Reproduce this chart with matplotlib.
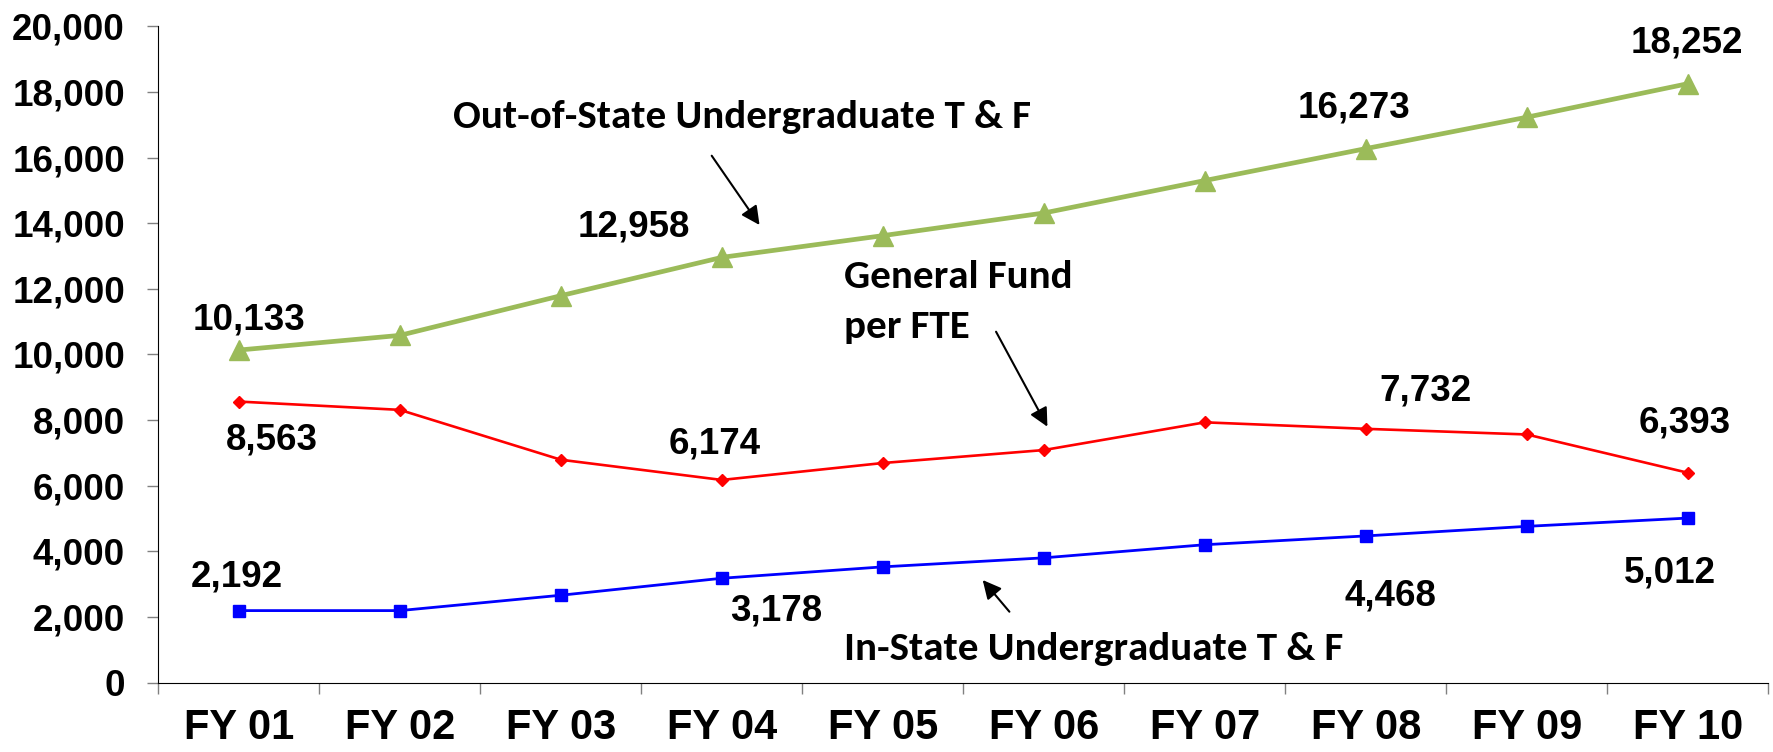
import numpy as np
import matplotlib
matplotlib.use("Agg")
import matplotlib.pyplot as plt
from matplotlib.ticker import FuncFormatter, FixedLocator

years = ["FY 01", "FY 02", "FY 03", "FY 04", "FY 05", "FY 06", "FY 07", "FY 08", "FY 09", "FY 10"]
out_state = [10133, 10580, 11790, 12958, 13620, 14310, 15300, 16273, 17230, 18252]
general_fund = [8563, 8310, 6790, 6174, 6690, 7085, 7930, 7732, 7560, 6393]
in_state = [2192, 2192, 2660, 3178, 3525, 3800, 4200, 4468, 4760, 5012]

# data label positions (x index, baseline y value) and text
out_labels = [(0.063, 10774, "10,133"), (2.452, 13609, "12,958"), (6.927, 17227, "16,273"), (8.995, 19208, "18,252")]
gf_labels = [(0.203, 7102, "8,563"), (2.953, 6986, "6,174"), (7.371, 8610, "7,732"), (8.981, 7605, "6,393")]
in_labels = [(-0.013, 2926, "2,192"), (3.337, 1905, "3,178"), (7.155, 2362, "4,468"), (8.889, 3042, "5,012")]

arial = ["Liberation Sans", "DejaVu Sans"]
calibri = ["Carlito", "DejaVu Sans"]

fig = plt.figure(figsize=(17.73, 7.52), dpi=100)
ax = fig.add_axes([0.0893, 0.0924, 0.9081, 0.8726])

x = np.arange(len(years))
ax.plot(x, out_state, color="#9BBB59", lw=3.4, marker="^", ms=15, zorder=3)
ax.plot(x, general_fund, color="#FF0000", lw=1.9, marker="D", ms=6.5, zorder=3)
ax.plot(x, in_state, color="#0000FF", lw=2.0, marker="s", ms=9, zorder=3)

for xs, ys, t in out_labels + gf_labels + in_labels:
    ax.text(xs, ys, t, ha="center", va="baseline", fontsize=26.5, fontweight="bold", family=arial)

ax.text(3.125, 16892, "Out-of-State Undergraduate T & F", ha="center", va="baseline",
        fontsize=29.5, fontweight="bold", family=calibri)
ax.text(3.759, 12015, "General Fund", ha="left", va="baseline",
        fontsize=29.5, fontweight="bold", family=calibri)
ax.text(3.759, 10491, "per FTE", ha="left", va="baseline",
        fontsize=29.5, fontweight="bold", family=calibri)
ax.text(3.760, 686, "In-State Undergraduate T & F", ha="left", va="baseline",
        fontsize=29.5, fontweight="bold", family=calibri)

arrow = dict(arrowstyle="-|>", color="black", lw=1.5, mutation_scale=28, shrinkA=0, shrinkB=0)
ax.annotate("", xy=(3.234, 13944), xytext=(2.937, 16056), arrowprops=arrow)
ax.annotate("", xy=(5.022, 7797), xytext=(4.703, 10692), arrowprops=arrow)
ax.annotate("", xy=(4.620, 3124), xytext=(4.786, 2158), arrowprops=arrow)

ax.set_xlim(-0.5, len(years) - 0.5)
ax.set_ylim(0, 20000)
ax.set_yticks(np.arange(0, 20001, 2000))
ax.yaxis.set_major_formatter(FuncFormatter(lambda v, p: f"{int(v):,}"))
ax.set_xticks(x)
ax.set_xticklabels(years)
ax.xaxis.set_minor_locator(FixedLocator(np.arange(-0.5, len(years), 1.0)))
ax.tick_params(axis="x", which="major", length=0, pad=18)
ax.tick_params(axis="x", which="minor", length=8, width=1, color="gray", direction="out")
ax.tick_params(axis="y", length=8, width=1, color="gray", direction="out", pad=16)

for lab in ax.get_yticklabels():
    lab.set_fontsize(26.5)
    lab.set_fontweight("bold")
    lab.set_family(arial)
for lab in ax.get_xticklabels():
    lab.set_fontsize(30)
    lab.set_fontweight("bold")
    lab.set_family(arial)

ax.spines["top"].set_visible(False)
ax.spines["right"].set_visible(False)
ax.spines["left"].set_color("black")
ax.spines["bottom"].set_color("black")

fig.savefig("out.png", dpi=100)
